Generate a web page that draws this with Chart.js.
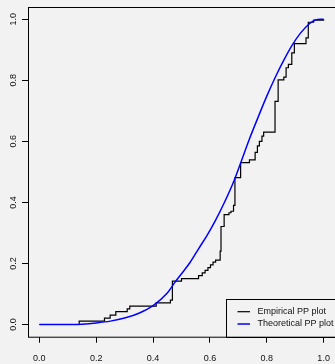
<!DOCTYPE html>
<html>
<head>
<meta charset="utf-8">
<script src="https://cdn.jsdelivr.net/npm/chart.js@4.4.0/dist/chart.umd.min.js"></script>
<style>
  html, body { margin: 0; padding: 0; background: #f2f2f2; }
  canvas { display: block; }
</style>
</head>
<body>
<canvas id="pp-plot" width="335" height="364"></canvas>
<script>
// empirical CDF: x where each step happens and the level reached after it
const empX = [0, 0.140, 0.229, 0.249, 0.269, 0.309, 0.318, 0.411, 0.461, 0.468, 0.500,
  0.560, 0.573, 0.583, 0.593, 0.602, 0.611, 0.620, 0.636, 0.639, 0.650, 0.667, 0.674,
  0.683, 0.688, 0.708, 0.739, 0.759, 0.767, 0.774, 0.783, 0.789, 0.829, 0.840, 0.860,
  0.868, 0.876, 0.888, 0.897, 0.938, 0.946, 0.965, 1.0]
const empY = [0, 0.011, 0.021, 0.031, 0.042, 0.051, 0.060, 0.071, 0.080, 0.142, 0.150,
  0.160, 0.169, 0.177, 0.186, 0.195, 0.204, 0.211, 0.240, 0.321, 0.360, 0.366, 0.371,
  0.390, 0.481, 0.530, 0.539, 0.564, 0.585, 0.600, 0.617, 0.630, 0.731, 0.801, 0.810,
  0.841, 0.852, 0.890, 0.920, 0.939, 0.990, 0.997, 1.0]

// fitted CDF
const theoX = [0, 0.12, 0.15, 0.20, 0.25, 0.30, 0.35, 0.40, 0.45, 0.476, 0.50, 0.53, 0.56,
  0.59, 0.62, 0.65, 0.687, 0.71, 0.74, 0.77, 0.80, 0.83, 0.86, 0.89, 0.92, 0.95, 0.97, 1.0]
const theoY = [0, 0, 0.001, 0.005, 0.011, 0.021, 0.037, 0.062, 0.103, 0.137, 0.166, 0.203,
  0.248, 0.292, 0.342, 0.398, 0.476, 0.534, 0.610, 0.680, 0.748, 0.810, 0.866, 0.916,
  0.956, 0.985, 0.997, 1.0]

const tickVals = [0, 0.2, 0.4, 0.6, 0.8, 1.0]
const seriesLabels = ['Empirical PP plot', 'Theoretical PP plot']
const seriesColors = ['#000000', '#0000ff']

Chart.defaults.font.family = '"Liberation Sans", Arial, sans-serif'
Chart.defaults.font.size = 9
Chart.defaults.color = '#111'

const toPoints = (xs, ys) => xs.map((x, i) => ({x: x, y: ys[i]}))

// box around the plot region plus the key in the lower right corner
const frameAndKey = {
  id: 'frameAndKey',
  afterDraw(chart) {
    const ctx = chart.ctx
    const a = chart.chartArea
    ctx.save()
    ctx.strokeStyle = '#000'
    ctx.lineWidth = 1
    ctx.strokeRect(a.left + 0.5, a.top + 0.5, a.right - a.left, a.bottom - a.top)

    const keyLeft = a.right - 109, keyTop = a.bottom - 38
    ctx.strokeRect(Math.round(keyLeft) + 0.5, Math.round(keyTop) + 0.5, 130, 38)
    ctx.font = '9px "Liberation Sans", Arial, sans-serif'
    ctx.textBaseline = 'middle'
    ctx.textAlign = 'left'
    chart.data.datasets.forEach((ds, i) => {
      const y = keyTop + 13 + i * 12.3
      ctx.strokeStyle = ds.borderColor
      ctx.lineWidth = ds.borderWidth
      ctx.beginPath()
      ctx.moveTo(keyLeft + 11.5, y)
      ctx.lineTo(keyLeft + 24, y)
      ctx.stroke()
      ctx.fillStyle = '#111'
      ctx.fillText(ds.label, keyLeft + 31.5, y)
    })
    ctx.restore()
  }
}

const fixedTicks = scale => {
  scale.ticks = tickVals.map(v => ({value: v}))
}
const noPad = scale => {
  scale.paddingTop = scale.paddingBottom = scale.paddingLeft = scale.paddingRight = 0
}

const config = {
  type: 'scatter',
  data: {
    datasets: [{
      label: seriesLabels[0],
      data: toPoints(empX, empY),
      showLine: true,
      stepped: 'before',
      borderColor: seriesColors[0],
      borderWidth: 1.2,
      pointRadius: 0,
      order: 1
    }, {
      label: seriesLabels[1],
      data: toPoints(theoX, theoY),
      showLine: true,
      cubicInterpolationMode: 'monotone',
      borderColor: seriesColors[1],
      borderWidth: 1.5,
      pointRadius: 0,
      order: 0
    }]
  },
  options: {
    responsive: false,
    animation: false,
    devicePixelRatio: 1,
    layout: {padding: {top: 7, right: 0, left: 0, bottom: 0}},
    plugins: {legend: {display: false}, tooltip: {enabled: false}},
    scales: {
      x: {
        type: 'linear',
        min: -0.04,
        max: 1.04,
        afterBuildTicks: fixedTicks,
        afterFit: s => { s.height = 27.3; noPad(s) },
        border: {display: false},
        grid: {drawOnChartArea: false, drawTicks: true, tickLength: 6, color: '#000'},
        ticks: {padding: 10, maxRotation: 0, minRotation: 0, autoSkip: false,
          callback: v => v.toFixed(1)}
      },
      y: {
        type: 'linear',
        min: -0.04,
        max: 1.04,
        afterBuildTicks: fixedTicks,
        afterFit: s => { s.width = 28; noPad(s) },
        border: {display: false},
        grid: {drawOnChartArea: false, drawTicks: true, tickLength: 6, color: '#000'},
        ticks: {padding: 2.5, minRotation: 90, maxRotation: 90, crossAlign: 'center',
          autoSkip: false, callback: v => v.toFixed(1)}
      }
    }
  },
  plugins: [frameAndKey]
}

const chart = new Chart(document.querySelector('#pp-plot'), config)
</script>
</body>
</html>
